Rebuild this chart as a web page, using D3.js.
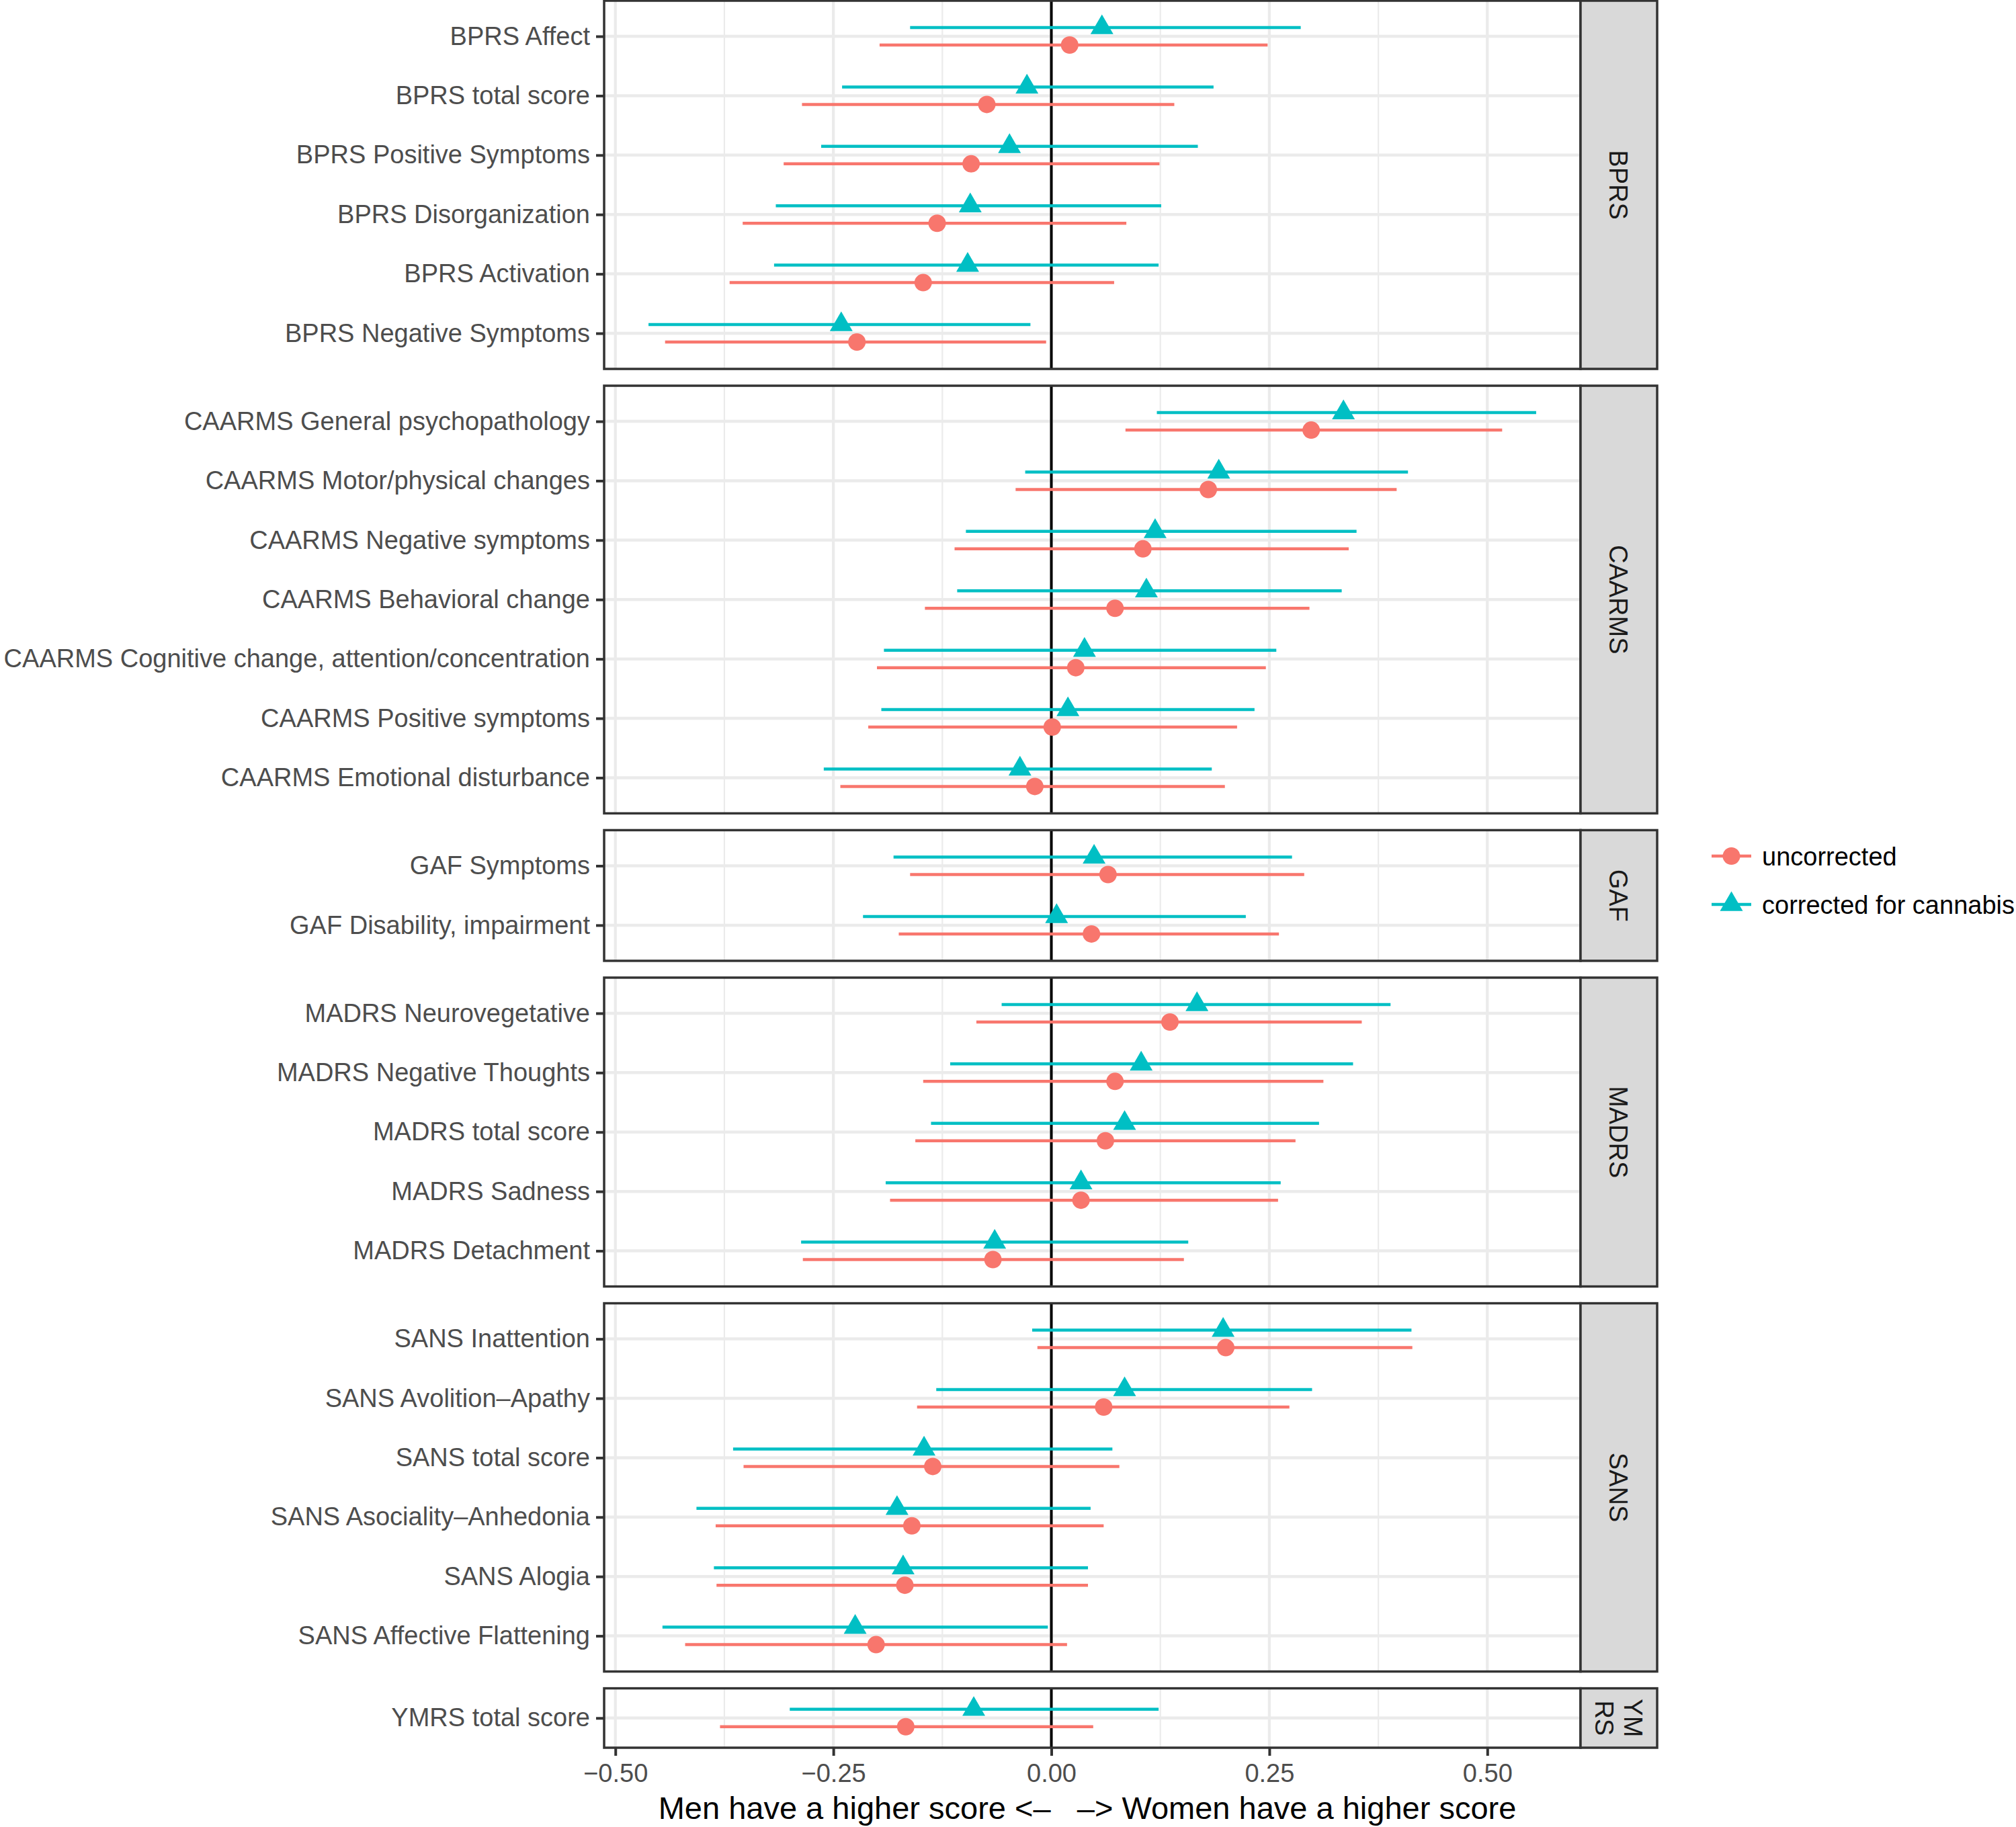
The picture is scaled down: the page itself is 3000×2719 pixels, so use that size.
<!DOCTYPE html>
<html>
<head>
<meta charset="utf-8">
<script src="https://cdn.jsdelivr.net/npm/d3@7"></script>
<style>
  body { margin: 0; background: #fff; }
  text { font-family: "Liberation Sans", Arial, Helvetica, sans-serif; }
</style>
</head>
<body>
<div id="chart"></div>
<script>
// ---- DATA ----
const groups = ["BPRS", "CAARMS", "GAF", "MADRS", "SANS", "YMRS"];
const groupStrip = [["BPRS"], ["CAARMS"], ["GAF"], ["MADRS"], ["SANS"], ["YM", "RS"]];

const itemLabels = [
  "BPRS Affect", "BPRS total score", "BPRS Positive Symptoms", "BPRS Disorganization",
  "BPRS Activation", "BPRS Negative Symptoms",
  "CAARMS General psychopathology", "CAARMS Motor/physical changes", "CAARMS Negative symptoms",
  "CAARMS Behavioral change", "CAARMS Cognitive change, attention/concentration",
  "CAARMS Positive symptoms", "CAARMS Emotional disturbance",
  "GAF Symptoms", "GAF Disability, impairment",
  "MADRS Neurovegetative", "MADRS Negative Thoughts", "MADRS total score", "MADRS Sadness",
  "MADRS Detachment",
  "SANS Inattention", "SANS Avolition\u2013Apathy", "SANS total score", "SANS Asociality\u2013Anhedonia",
  "SANS Alogia", "SANS Affective Flattening",
  "YMRS total score"
];
const itemGroup = [
  "BPRS", "BPRS", "BPRS", "BPRS", "BPRS", "BPRS",
  "CAARMS", "CAARMS", "CAARMS", "CAARMS", "CAARMS", "CAARMS", "CAARMS",
  "GAF", "GAF",
  "MADRS", "MADRS", "MADRS", "MADRS", "MADRS",
  "SANS", "SANS", "SANS", "SANS", "SANS", "SANS",
  "YMRS"
];

// uncorrected: estimate, lower, upper
const uncorrEst = [0.021, -0.074, -0.092, -0.131, -0.147, -0.223,
  0.298, 0.180, 0.105, 0.073, 0.028, 0.001, -0.019,
  0.065, 0.046,
  0.136, 0.073, 0.062, 0.034, -0.067,
  0.200, 0.060, -0.136, -0.160, -0.168, -0.201,
  -0.167];
const uncorrLo = [-0.197, -0.286, -0.307, -0.354, -0.369, -0.443,
  0.085, -0.041, -0.111, -0.145, -0.200, -0.210, -0.242,
  -0.162, -0.175,
  -0.086, -0.147, -0.156, -0.185, -0.285,
  -0.016, -0.154, -0.353, -0.385, -0.384, -0.420,
  -0.380];
const uncorrHi = [0.248, 0.141, 0.124, 0.086, 0.072, -0.006,
  0.517, 0.396, 0.341, 0.296, 0.246, 0.213, 0.199,
  0.290, 0.261,
  0.356, 0.312, 0.280, 0.260, 0.152,
  0.414, 0.273, 0.078, 0.060, 0.042, 0.018,
  0.048];

// corrected for cannabis: estimate, lower, upper
const corrEst = [0.058, -0.028, -0.048, -0.093, -0.096, -0.241,
  0.335, 0.192, 0.119, 0.109, 0.038, 0.019, -0.036,
  0.049, 0.006,
  0.167, 0.103, 0.084, 0.034, -0.065,
  0.197, 0.084, -0.146, -0.177, -0.170, -0.225,
  -0.089];
const corrLo = [-0.162, -0.240, -0.264, -0.316, -0.318, -0.462,
  0.121, -0.030, -0.098, -0.108, -0.192, -0.195, -0.261,
  -0.181, -0.216,
  -0.057, -0.116, -0.138, -0.190, -0.287,
  -0.022, -0.132, -0.365, -0.407, -0.387, -0.446,
  -0.300];
const corrHi = [0.286, 0.186, 0.168, 0.126, 0.123, -0.024,
  0.556, 0.409, 0.350, 0.333, 0.258, 0.233, 0.184,
  0.276, 0.223,
  0.389, 0.346, 0.307, 0.263, 0.157,
  0.413, 0.299, 0.070, 0.045, 0.042, -0.004,
  0.123];

const majorBreaks = [-0.5, -0.25, 0, 0.25, 0.5];
const minorBreaks = [-0.375, -0.125, 0.125, 0.375];

const seriesNames = ["uncorrected", "corrected for cannabis"];
const seriesColors = ["#F8766D", "#00BFC4"];

// ---- LAYOUT ----
const W = 3000, H = 2719;
const panelLeft = 899, panelRight = 2352, stripW = 114;
const panelTop = 1, panelBottom = 2601, gap = 25;
const dodge = 13;

const svg = d3.select("#chart").append("svg")
    .attr("width", W)
    .attr("height", H);

svg.append("rect").attr("width", W).attr("height", H).attr("fill", "#fff");

// x scale with ggplot-like 5% expansion
const ext = d3.extent(uncorrLo.concat(uncorrHi, corrLo, corrHi));
const pad = (ext[1] - ext[0]) * 0.05;
const x = d3.scaleLinear()
    .domain([ext[0] - pad, ext[1] + pad])
    .range([panelLeft, panelRight]);

// panel heights proportional to number of items (free space)
const counts = groups.map(g => itemGroup.filter(d => d === g).length);
const units = counts.map(n => n > 1 ? n + 0.2 : 1);
const u = (panelBottom - panelTop - gap * (groups.length - 1)) / d3.sum(units);

let yTop = panelTop;
groups.forEach((grp, gi) => {
  const h = units[gi] * u;
  const idx = d3.range(itemLabels.length).filter(i => itemGroup[i] === grp);
  const labels = idx.map(i => itemLabels[i]);
  const y = d3.scalePoint().domain(labels).range([yTop, yTop + h]).padding(0.6);

  const g = svg.append("g");

  g.append("rect")
      .attr("x", panelLeft).attr("y", yTop)
      .attr("width", panelRight - panelLeft).attr("height", h)
      .attr("fill", "#fff");

  // grid
  g.selectAll(".minor").data(minorBreaks).enter().append("line")
      .attr("x1", d => x(d)).attr("x2", d => x(d))
      .attr("y1", yTop).attr("y2", yTop + h)
      .attr("stroke", "#EBEBEB").attr("stroke-width", 2.2);
  g.selectAll(".major").data(majorBreaks).enter().append("line")
      .attr("x1", d => x(d)).attr("x2", d => x(d))
      .attr("y1", yTop).attr("y2", yTop + h)
      .attr("stroke", "#EBEBEB").attr("stroke-width", 4.3);
  g.selectAll(".hgrid").data(labels).enter().append("line")
      .attr("x1", panelLeft).attr("x2", panelRight)
      .attr("y1", d => y(d)).attr("y2", d => y(d))
      .attr("stroke", "#EBEBEB").attr("stroke-width", 4.5);

  // zero line
  g.append("line")
      .attr("x1", x(0)).attr("x2", x(0))
      .attr("y1", yTop).attr("y2", yTop + h)
      .attr("stroke", "#000").attr("stroke-width", 4);

  // error bars
  g.selectAll(".barC").data(idx).enter().append("line")
      .attr("x1", i => x(corrLo[i])).attr("x2", i => x(corrHi[i]))
      .attr("y1", i => y(itemLabels[i]) - dodge).attr("y2", i => y(itemLabels[i]) - dodge)
      .attr("stroke", seriesColors[1]).attr("stroke-width", 4.5);
  g.selectAll(".barU").data(idx).enter().append("line")
      .attr("x1", i => x(uncorrLo[i])).attr("x2", i => x(uncorrHi[i]))
      .attr("y1", i => y(itemLabels[i]) + dodge).attr("y2", i => y(itemLabels[i]) + dodge)
      .attr("stroke", seriesColors[0]).attr("stroke-width", 4.5);

  // points
  g.selectAll(".ptC").data(idx).enter().append("path")
      .attr("d", d3.symbol(d3.symbolTriangle, 500))
      .attr("transform", i => `translate(${x(corrEst[i])},${y(itemLabels[i]) - dodge})`)
      .attr("fill", seriesColors[1]);
  g.selectAll(".ptU").data(idx).enter().append("circle")
      .attr("cx", i => x(uncorrEst[i]))
      .attr("cy", i => y(itemLabels[i]) + dodge)
      .attr("r", 13)
      .attr("fill", seriesColors[0]);

  // panel border
  g.append("rect")
      .attr("x", panelLeft).attr("y", yTop)
      .attr("width", panelRight - panelLeft).attr("height", h)
      .attr("fill", "none").attr("stroke", "#333333").attr("stroke-width", 3.5);

  // strip
  g.append("rect")
      .attr("x", panelRight).attr("y", yTop)
      .attr("width", stripW).attr("height", h)
      .attr("fill", "#D9D9D9").attr("stroke", "#333333").attr("stroke-width", 3.5);

  const lines = groupStrip[gi];
  const lh = 43;
  const st = g.append("text")
      .attr("transform", `translate(${panelRight + stripW / 2},${yTop + h / 2}) rotate(90)`)
      .attr("text-anchor", "middle")
      .attr("fill", "#1A1A1A")
      .style("font-size", "38px");
  lines.forEach((t, li) => {
    st.append("tspan")
        .attr("x", 0)
        .attr("y", (li - (lines.length - 1) / 2) * lh)
        .attr("dy", "0.36em")
        .text(t);
  });

  // y axis
  const ya = g.append("g")
      .attr("transform", `translate(${panelLeft},0)`)
      .call(d3.axisLeft(y).tickSize(12).tickPadding(9));
  ya.select(".domain").remove();
  ya.selectAll(".tick line").attr("stroke", "#333333").attr("stroke-width", 4);
  ya.selectAll(".tick text")
      .attr("fill", "#4D4D4D")
      .style("font-size", "38px")
      .style("font-family", '"Liberation Sans", Arial, Helvetica, sans-serif');

  yTop += h + gap;
});

// x axis
const xa = svg.append("g")
    .attr("transform", `translate(0,${panelBottom})`)
    .call(d3.axisBottom(x).tickValues(majorBreaks).tickFormat(d3.format(".2f"))
      .tickSize(12).tickPadding(12));
xa.select(".domain").remove();
xa.selectAll(".tick line").attr("stroke", "#333333").attr("stroke-width", 4);
xa.selectAll(".tick text")
    .attr("fill", "#4D4D4D")
    .style("font-size", "38px")
    .style("font-family", '"Liberation Sans", Arial, Helvetica, sans-serif');

// x axis title
svg.append("text")
    .attr("x", 1618)
    .attr("y", 2707)
    .attr("text-anchor", "middle")
    .attr("fill", "#000")
    .style("font-size", "47px")
    .style("white-space", "pre")
    .text("Men have a higher score <\u2013   \u2013> Women have a higher score");

// legend
const legend = svg.append("g").attr("transform", "translate(2547,1274)");
const legendEntries = legend.selectAll("g")
    .data(seriesNames)
    .enter()
    .append("g")
    .attr("transform", (d, i) => `translate(0,${i * 72})`);

legendEntries.append("line")
    .attr("x1", 0).attr("x2", 59)
    .attr("stroke", (d, i) => seriesColors[i])
    .attr("stroke-width", 4.5);

legendEntries.append("path")
    .attr("d", (d, i) => i === 0 ? d3.symbol(d3.symbolCircle, Math.PI * 169)() : d3.symbol(d3.symbolTriangle, 500)())
    .attr("transform", "translate(29.5,0)")
    .attr("fill", (d, i) => seriesColors[i]);

legendEntries.append("text")
    .attr("x", 75)
    .attr("dy", "0.36em")
    .attr("fill", "#000")
    .style("font-size", "38px")
    .text(d => d);
</script>
</body>
</html>
